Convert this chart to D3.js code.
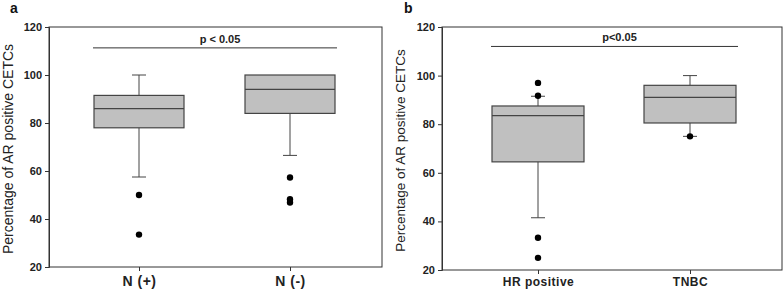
<!DOCTYPE html>
<meta charset="utf-8">
<script src="https://d3js.org/d3.v7.min.js"></script>
<style>
  body { margin: 0; background: #fff; }
  text { font-family: "Liberation Sans", Arial, sans-serif; }
</style>
<body>
<div id="chart"></div>
<script>
// panel a : nodal status
var groupsA = ["N (+)", "N (-)"];
var statsA = [
  {lo: 57.5, q1: 78, med: 86, q3: 91.5, hi: 100},
  {lo: 66.5, q1: 84, med: 94, q3: 100, hi: 100}
];
var outliersA = [[50, 33.5], [57.3, 48.2, 46.9]];

// panel b : receptor status
var groupsB = ["HR positive", "TNBC"];
var statsB = [
  {lo: 41.5, q1: 64.5, med: 83.5, q3: 87.5, hi: 91.5},
  {lo: 75, q1: 80.5, med: 91, q3: 96, hi: 100}
];
var outliersB = [[97, 91.7, 33.3, 25], [75]];

var yTicks = [20, 40, 60, 80, 100, 120];
var pLabels = ["p < 0.05", "p<0.05"];
var pLevel = [111.3, 112];

var svg = d3.select("#chart").append("svg")
    .attr("width", 784)
    .attr("height", 293);

function panel(o) {
  var g = svg.append("g");

  var y = d3.scaleLinear().domain([20, 120]).range([o.bottom, o.top]);
  var x = d3.scalePoint().domain(o.groups).range([o.c0, o.c1]);

  // frame
  g.append("rect")
      .attr("x", o.left).attr("y", o.top)
      .attr("width", o.right - o.left).attr("height", o.bottom - o.top)
      .attr("fill", "none").attr("stroke", "#333").attr("stroke-width", 1);

  // y axis
  var ya = g.append("g")
      .attr("transform", "translate(" + o.left + ",0)")
      .call(d3.axisLeft(y).tickValues(yTicks).tickSize(4).tickPadding(3));
  ya.select(".domain").attr("stroke", "#333");
  ya.selectAll(".tick line").attr("stroke", "#333");
  ya.selectAll("text")
      .attr("font-size", 11).attr("font-weight", "bold").attr("fill", "#222")
      .style("font-family", "'Liberation Sans', Arial, sans-serif");

  // x axis
  var xa = g.append("g")
      .attr("transform", "translate(0," + o.bottom + ")")
      .call(d3.axisBottom(x).tickSize(4).tickPadding(o.xPad));
  xa.select(".domain").remove();
  xa.selectAll(".tick line").attr("stroke", "#333");
  xa.selectAll("text")
      .attr("font-size", o.xFont).attr("font-weight", "bold").attr("fill", "#222")
      .style("font-family", "'Liberation Sans', Arial, sans-serif")
      .style("letter-spacing", "0.5px");

  // y label
  g.append("text")
      .attr("transform", "translate(" + o.labX + "," + ((o.top + o.bottom) / 2 + 2) + ") rotate(-90)")
      .attr("text-anchor", "middle")
      .attr("font-size", o.labFont)
      .attr("fill", "#222")
      .text("Percentage of AR positive CETCs");

  // panel letter
  g.append("text")
      .attr("x", o.letterX).attr("y", 13)
      .attr("font-size", 14).attr("font-weight", "bold").attr("fill", "#111")
      .text(o.letter);

  // boxes
  var boxes = g.selectAll(".box").data(o.stats).enter().append("g")
      .attr("class", "box")
      .attr("transform", function(d, i) { return "translate(" + x(o.groups[i]) + ",0)"; });

  boxes.append("line")
      .attr("x1", 0).attr("x2", 0)
      .attr("y1", function(d) { return y(d.hi); })
      .attr("y2", function(d) { return y(d.q3); })
      .attr("stroke", "#444");
  boxes.append("line")
      .attr("x1", 0).attr("x2", 0)
      .attr("y1", function(d) { return y(d.q1); })
      .attr("y2", function(d) { return y(d.lo); })
      .attr("stroke", "#444");
  boxes.filter(function(d) { return d.hi > d.q3; }).append("line")
      .attr("x1", -7).attr("x2", 7)
      .attr("y1", function(d) { return y(d.hi); })
      .attr("y2", function(d) { return y(d.hi); })
      .attr("stroke", "#444");
  boxes.append("line")
      .attr("x1", -7).attr("x2", 7)
      .attr("y1", function(d) { return y(d.lo); })
      .attr("y2", function(d) { return y(d.lo); })
      .attr("stroke", "#444");
  boxes.append("rect")
      .attr("x", -o.half).attr("width", o.half * 2)
      .attr("y", function(d) { return y(d.q3); })
      .attr("height", function(d) { return y(d.q1) - y(d.q3); })
      .attr("fill", "#c0c0c0").attr("stroke", "#444").attr("stroke-width", 1.2);
  boxes.append("line")
      .attr("x1", -o.half).attr("x2", o.half)
      .attr("y1", function(d) { return y(d.med); })
      .attr("y2", function(d) { return y(d.med); })
      .attr("stroke", "#444").attr("stroke-width", 1.2);

  boxes.each(function(d, i) {
    d3.select(this).selectAll("circle").data(o.outliers[i]).enter().append("circle")
        .attr("cx", 0)
        .attr("cy", function(v) { return y(v); })
        .attr("r", 3.2)
        .attr("fill", "#000");
  });

  // significance bar
  var pl = x(o.groups[0]) - o.half - 1, pr = x(o.groups[1]) + o.half + 2;
  g.append("line")
      .attr("x1", pl).attr("x2", pr)
      .attr("y1", y(o.p)).attr("y2", y(o.p))
      .attr("stroke", "#333");
  g.append("text")
      .attr("x", (pl + pr) / 2 + 5).attr("y", y(o.p) - 5)
      .attr("text-anchor", "middle")
      .attr("font-size", 11).attr("font-weight", "bold").attr("fill", "#222")
      .text(o.pText);
}

panel({
  groups: groupsA, stats: statsA, outliers: outliersA,
  left: 49, right: 382, top: 27, bottom: 267, c0: 139, c1: 290, half: 45,
  xFont: 14, xPad: 5, labX: 13, labFont: 14, letter: "a", letterX: 10,
  p: pLevel[0], pText: pLabels[0]
});
panel({
  groups: groupsB, stats: statsB, outliers: outliersB,
  left: 442, right: 782, top: 27, bottom: 270, c0: 538, c1: 690, half: 46,
  xFont: 12, xPad: 3, labX: 405, labFont: 13.5, letter: "b", letterX: 404,
  p: pLevel[1], pText: pLabels[1]
});
</script>
</body>
